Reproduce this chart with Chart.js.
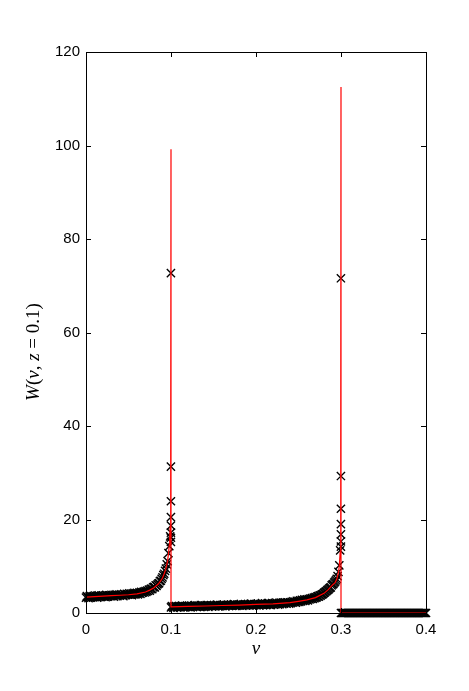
<!DOCTYPE html>
<html>
<head>
<meta charset="utf-8">
<script src="https://cdn.jsdelivr.net/npm/chart.js@4.4.1/dist/chart.umd.min.js"></script>
<style>
html, body { margin: 0; padding: 0; background: #fff; }
</style>
</head>
<body>
<canvas id="myChart" width="469" height="691"></canvas>
<script>
// axis ticks
const xTicks = [0, 0.1, 0.2, 0.3, 0.4];
const yTicks = [0, 20, 40, 60, 80, 100, 120];

// theory curve (red line)
const theoryV = [0, 0.01, 0.02, 0.03, 0.04, 0.05, 0.06, 0.07, 0.075, 0.08, 0.085, 0.088, 0.09, 0.092, 0.094, 0.095, 0.096, 0.097, 0.098, 0.0985, 0.099, 0.0995, 0.0998, 0.1,
  0.1, 0.12, 0.14, 0.16, 0.18, 0.2, 0.22, 0.24, 0.25, 0.26, 0.27, 0.28, 0.285, 0.29, 0.293, 0.295, 0.297, 0.298, 0.299, 0.2995, 0.2999, 0.3,
  0.3, 0.4];
const theoryW = [3.4, 3.5, 3.6, 3.7, 3.8, 3.9, 4.1, 4.5, 4.9, 5.4, 6.2, 6.9, 7.5, 8.4, 9.5, 10.3, 11.2, 12.6, 14.5, 16, 18.5, 24, 35, 99.2,
  1.3, 1.4, 1.5, 1.6, 1.7, 1.85, 1.95, 2.2, 2.5, 2.8, 3.3, 4.2, 5.0, 6.0, 6.5, 7.2, 8.7, 10, 13, 18, 35, 112.5,
  0, 0];

// simulation samples (black crosses), step 0.001
const simStep = 0.001;
const simStart1 = 0;
const simW1 = [
  3.3, 3.6, 3.4, 3.2, 3.5, 3.7, 3.3, 3.5, 3.4, 3.6,
  3.4, 3.7, 3.5, 3.3, 3.6, 3.8, 3.5, 3.4, 3.7, 3.5,
  3.8, 3.5, 3.7, 3.4, 3.9, 3.6, 3.5, 3.8, 3.7, 3.6,
  3.9, 3.6, 3.8, 3.5, 3.9, 3.7, 4.0, 3.6, 3.8, 3.9,
  3.7, 4.0, 3.8, 3.9, 3.6, 4.1, 3.9, 3.8, 4.1, 3.9,
  4.0, 4.2, 3.9, 4.1, 3.8, 4.2, 4.0, 4.3, 4.0, 4.1,
  4.3, 4.0, 4.2, 4.4, 4.1, 4.5, 4.3, 4.4, 4.6, 4.4,
  4.7, 4.5, 4.8, 4.7, 5.0, 4.8, 5.1, 5.2, 5.1, 5.5,
  5.6, 5.5, 5.9, 5.8, 6.1, 6.3, 6.4, 6.8, 6.9, 7.3,
  7.6, 8.1, 8.4, 9.0, 9.5, 10.4, 11.1, 12.8, 14.3, 16.4
];
const spikeV1 = 0.0999;
const spikeW1 = [72.7, 31.3, 23.9, 20.5, 18.7, 17.2, 16.1, 15.2];

const simStart2 = 0.1;
const simW2 = [
  1.2, 1.5, 1.3, 1.1, 1.4, 1.3, 1.5, 1.2, 1.4, 1.3,
  1.5, 1.2, 1.4, 1.6, 1.3, 1.4, 1.2, 1.5, 1.3, 1.6,
  1.3, 1.5, 1.4, 1.2, 1.6, 1.4, 1.3, 1.5, 1.7, 1.4,
  1.3, 1.6, 1.4, 1.5, 1.3, 1.7, 1.5, 1.4, 1.6, 1.3,
  1.6, 1.4, 1.7, 1.5, 1.3, 1.6, 1.5, 1.7, 1.4, 1.6,
  1.5, 1.7, 1.4, 1.6, 1.8, 1.5, 1.6, 1.4, 1.7, 1.5,
  1.7, 1.5, 1.8, 1.6, 1.4, 1.7, 1.6, 1.8, 1.5, 1.7,
  1.6, 1.8, 1.5, 1.7, 1.9, 1.6, 1.7, 1.5, 1.8, 1.6,
  1.8, 1.6, 1.9, 1.7, 1.5, 1.8, 1.7, 1.9, 1.6, 1.8,
  1.7, 1.9, 1.6, 1.8, 2.0, 1.7, 1.8, 1.6, 1.9, 1.8,
  1.9, 1.7, 2.0, 1.8, 1.6, 1.9, 1.8, 2.1, 1.7, 1.9,
  1.8, 2.0, 1.7, 1.9, 2.1, 1.8, 2.0, 1.7, 1.9, 2.1,
  2.0, 1.8, 2.1, 1.9, 2.2, 2.0, 1.8, 2.1, 1.9, 2.2,
  2.1, 1.9, 2.2, 2.0, 2.3, 2.1, 2.0, 2.3, 2.2, 2.0,
  2.3, 2.1, 2.4, 2.2, 2.5, 2.3, 2.4, 2.2, 2.6, 2.4,
  2.6, 2.4, 2.7, 2.5, 2.8, 2.6, 2.7, 2.9, 2.6, 2.8,
  2.9, 2.7, 3.0, 2.9, 3.1, 3.0, 3.2, 3.0, 3.3, 3.2,
  3.4, 3.3, 3.5, 3.6, 3.5, 3.8, 3.7, 3.9, 4.0, 4.1,
  4.3, 4.4, 4.6, 4.7, 4.9, 5.0, 5.2, 5.4, 5.5, 5.9,
  6.1, 6.2, 6.5, 6.7, 7.0, 7.3, 7.9, 8.8, 10.2, 13.4
];
const spikeV2 = 0.2999;
const spikeW2 = [71.6, 29.3, 22.3, 19.0, 16.8, 15.3, 14.2];

const simStart3 = 0.3;
const simW3 = [
  0, 0, 0, 0, 0, 0, 0, 0, 0, 0,
  0, 0, 0, 0, 0, 0, 0, 0, 0, 0,
  0, 0, 0, 0, 0, 0, 0, 0, 0, 0,
  0, 0, 0, 0, 0, 0, 0, 0, 0, 0,
  0, 0, 0, 0, 0, 0, 0, 0, 0, 0,
  0, 0, 0, 0, 0, 0, 0, 0, 0, 0,
  0, 0, 0, 0, 0, 0, 0, 0, 0, 0,
  0, 0, 0, 0, 0, 0, 0, 0, 0, 0,
  0, 0, 0, 0, 0, 0, 0, 0, 0, 0,
  0, 0, 0, 0, 0, 0, 0, 0, 0, 0,
  0
];

const linePts = theoryV.map((v, i) => ({ x: v, y: theoryW[i] }));
const simPts = [];
simW1.forEach((w, i) => simPts.push({ x: simStart1 + i * simStep, y: w }));
spikeW1.forEach(w => simPts.push({ x: spikeV1, y: w }));
simW2.forEach((w, i) => simPts.push({ x: simStart2 + i * simStep, y: w }));
spikeW2.forEach(w => simPts.push({ x: spikeV2, y: w }));
simW3.forEach((w, i) => simPts.push({ x: simStart3 + i * simStep, y: w }));

// y label in TeX style: italic symbols, upright digits and signs
const yLabel = [['W', 'italic'], ['(', 'normal'], ['v', 'italic'], [', ', 'normal'], ['z', 'italic'], [' = 0.1)', 'normal']];

// box around the plot with inward ticks on all four sides, plus the y label
const boxPlugin = {
  id: 'box',
  afterDatasetsDraw(chart) {
    const c = chart.ctx, a = chart.chartArea;
    const xs = chart.scales.x, ys = chart.scales.y;
    c.save();
    c.strokeStyle = '#000';
    c.lineWidth = 1;
    c.beginPath();
    xs.ticks.forEach(t => {
      const px = Math.round(xs.getPixelForValue(t.value)) + 0.5;
      c.moveTo(px, a.bottom); c.lineTo(px, a.bottom - 5);
      c.moveTo(px, a.top); c.lineTo(px, a.top + 5);
    });
    ys.ticks.forEach(t => {
      const py = Math.round(ys.getPixelForValue(t.value)) + 0.5;
      c.moveTo(a.left, py); c.lineTo(a.left + 5, py);
      c.moveTo(a.right, py); c.lineTo(a.right - 5, py);
    });
    c.stroke();
    c.strokeRect(Math.round(a.left) + 0.5, Math.round(a.top) + 0.5,
      Math.round(a.right - a.left), Math.round(a.bottom - a.top));

    // rotated y label
    const fnt = st => st + ' 19px "Liberation Serif"';
    let total = 0;
    yLabel.forEach(([s, st]) => { c.font = fnt(st); total += c.measureText(s).width; });
    c.translate(34, 352);
    c.rotate(-Math.PI / 2);
    c.fillStyle = '#000';
    c.textBaseline = 'middle';
    c.textAlign = 'left';
    let x = -total / 2;
    yLabel.forEach(([s, st]) => { c.font = fnt(st); c.fillText(s, x, 0); x += c.measureText(s).width; });
    c.restore();
  }
};

new Chart(document.getElementById('myChart'), {
  type: 'scatter',
  data: {
    datasets: [
      {
        label: 'theory',
        data: linePts,
        showLine: true,
        borderColor: '#ff0000',
        borderWidth: 1.2,
        pointRadius: 0,
        fill: false,
        clip: false
      },
      {
        label: 'simulation',
        data: simPts,
        showLine: false,
        pointStyle: 'crossRot',
        pointRadius: 5.8,
        borderColor: '#000',
        backgroundColor: '#000',
        pointBorderWidth: 1.4,
        clip: false
      }
    ]
  },
  plugins: [boxPlugin],
  options: {
    responsive: false,
    animation: false,
    events: [],
    layout: { padding: { left: 0, top: 52, right: 43, bottom: 0 } },
    plugins: { legend: { display: false }, tooltip: { enabled: false } },
    scales: {
      x: {
        type: 'linear',
        min: 0, max: 0.4,
        afterBuildTicks: s => { s.ticks = xTicks.map(v => ({ value: v })); },
        afterFit: s => { s.height = 78; },
        grid: { display: false, drawTicks: false },
        border: { display: false },
        ticks: {
          padding: 8,
          color: '#000',
          font: { family: 'Liberation Sans', size: 15 },
          callback: v => String(v)
        },
        title: {
          display: true,
          text: 'v',
          color: '#000',
          font: { family: 'Liberation Serif', style: 'italic', size: 19 },
          padding: { top: 0, bottom: 31 }
        }
      },
      y: {
        type: 'linear',
        min: 0, max: 120,
        afterBuildTicks: s => { s.ticks = yTicks.map(v => ({ value: v })); },
        afterFit: s => { s.width = 86; },
        grid: { display: false, drawTicks: false },
        border: { display: false },
        ticks: {
          padding: 6,
          color: '#000',
          font: { family: 'Liberation Sans', size: 15 }
        },
        title: { display: false }
      }
    }
  }
});
</script>
</body>
</html>
